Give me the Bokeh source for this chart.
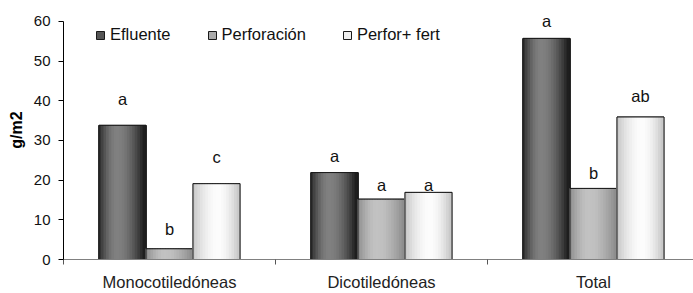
import numpy as np
from bokeh.plotting import figure
from bokeh.models import (ColumnDataSource, Range1d, FixedTicker, Legend, LegendItem)
from bokeh.core.properties import value
from bokeh.embed import file_html
from bokeh.resources import INLINE

# ---------------- data ----------------
categories = ["Monocotiledóneas", "Dicotiledóneas", "Total"]
series_names = ["Efluente", "Perforación", "Perfor+ fert"]
efluente = [33.8, 21.9, 55.7]
perforacion = [2.7, 15.2, 17.9]
perfor_fert = [19.1, 16.9, 35.9]
letters_efluente = ["a", "a", "a"]
letters_perforacion = ["b", "a", "b"]
letters_perfor_fert = ["c", "a", "ab"]
y_ticks = [0, 10, 20, 30, 40, 50, 60]
y_label = "g/m2"

# ---------------- style ----------------
FONT = "Liberation Sans"
BAR_W = 47 / 212.0
N_STRIPS = 18
# gap (data units) between bar top and letter centre
letter_gap = [[6.7, 4.1, 4.4], [5.0, 3.6, 3.9], [6.7, 1.9, 5.4]]
# gradient profile per series: (left, peak, right, peak position)
profiles = [(0x26, 0x80, 0x16, 0.40),
            (0x8a, 0xc2, 0x8a, 0.42),
            (0xc4, 0xfc, 0xc4, 0.55)]
legend_fill = ["#555555", "#aaaaaa", "#eeeeee"]


def strip_colors(left, peak, right, tp, n):
    cols = []
    for k in range(n):
        t = (k + 0.5) / n
        if t <= tp:
            f = np.sin(0.5 * np.pi * t / tp)
            v = left + (peak - left) * f
        else:
            f = np.cos(0.5 * np.pi * (t - tp) / (1 - tp))
            v = right + (peak - right) * f
        v = int(round(v))
        cols.append("#%02x%02x%02x" % (v, v, v))
    return cols


p = figure(width=693, height=293, output_backend="svg", toolbar_location=None,
           x_range=Range1d(-0.5, -0.5 + 630 / 212.0), y_range=Range1d(0, 65.25),
           min_border_left=63, min_border_right=0, min_border_top=0,
           min_border_bottom=32)
p.outline_line_color = None
p.xgrid.visible = False
p.ygrid.visible = False
p.background_fill_color = "white"

all_values = [efluente, perforacion, perfor_fert]
all_letters = [letters_efluente, letters_perforacion, letters_perfor_fert]
cat_idx = np.arange(len(categories))

legend_items = []
for s, (vals, letters) in enumerate(zip(all_values, all_letters)):
    centers = cat_idx + (s - 1) * BAR_W
    osrc = ColumnDataSource(dict(x=list(centers), top=list(vals)))
    # base bar (solid), used for the legend swatch
    r_base = p.vbar(x="x", top="top", width=BAR_W, bottom=0, source=osrc,
                    fill_color=legend_fill[s], line_color="#1a1a1a", line_width=1)
    # gradient strips
    cols = strip_colors(*profiles[s], N_STRIPS)
    xs, tops, colors = [], [], []
    sw = BAR_W / N_STRIPS
    for c, v in zip(centers, vals):
        for k in range(N_STRIPS):
            xs.append(c - BAR_W / 2 + (k + 0.5) * sw)
            tops.append(v)
            colors.append(cols[k])
    src = ColumnDataSource(dict(x=xs, top=tops, color=colors))
    p.vbar(x="x", top="top", width=sw * 1.6, bottom=0, source=src,
           fill_color="color", line_color=None)
    # outline on top
    p.vbar(x="x", top="top", width=BAR_W, bottom=0, source=osrc,
           fill_color=None, line_color="#1a1a1a", line_width=1)
    lsrc = ColumnDataSource(dict(x=list(centers),
                                 y=[v + g for v, g in zip(vals, letter_gap[s])],
                                 t=letters))
    p.text(x="x", y="y", text="t", source=lsrc, text_align="center",
           text_baseline="middle", text_font=value(FONT), text_font_size="16.5px",
           text_color="#111111")
    legend_items.append(LegendItem(label=series_names[s], renderers=[r_base]))

# axes
p.yaxis.ticker = FixedTicker(ticks=y_ticks)
p.yaxis.bounds = (0, 60)
p.yaxis.axis_line_color = "#000000"
p.yaxis.major_tick_line_color = "#000000"
p.yaxis.major_tick_out = 5
p.yaxis.major_tick_in = 0
p.yaxis.minor_tick_line_color = None
p.yaxis.major_label_text_font = FONT
p.yaxis.major_label_text_font_size = "15px"
p.yaxis.major_label_text_color = "#111111"
p.yaxis.major_label_standoff = 8
p.yaxis.axis_label = y_label
p.yaxis.axis_label_text_font = FONT
p.yaxis.axis_label_text_font_size = "16px"
p.yaxis.axis_label_text_font_style = "bold"
p.yaxis.axis_label_text_color = "#000000"
p.yaxis.axis_label_standoff = 6

p.xaxis.ticker = FixedTicker(ticks=list(cat_idx),
                             minor_ticks=[i - 0.5 for i in range(len(categories) + 1)])
p.xaxis.major_label_overrides = {int(i): c for i, c in zip(cat_idx, categories)}
p.xaxis.axis_line_color = "#808080"
p.xaxis.major_tick_line_color = None
p.xaxis.major_tick_out = 0
p.xaxis.major_tick_in = 0
p.xaxis.minor_tick_line_color = "#555555"
p.xaxis.minor_tick_out = 0
p.xaxis.minor_tick_in = -5
p.xaxis.major_label_text_font = FONT
p.xaxis.major_label_text_font_size = "16.5px"
p.xaxis.major_label_text_color = "#222222"
p.xaxis.major_label_standoff = 13

legend = Legend(items=legend_items, orientation="horizontal", location=(32, 215),
                padding=0, margin=0, spacing=36, label_standoff=5,
                glyph_width=10, glyph_height=10, label_height=16,
                border_line_color=None, background_fill_alpha=0,
                label_text_font=FONT, label_text_font_size="16.5px",
                label_text_color="#111111")
p.add_layout(legend)

open("out.html", "w").write(file_html(p, INLINE))
